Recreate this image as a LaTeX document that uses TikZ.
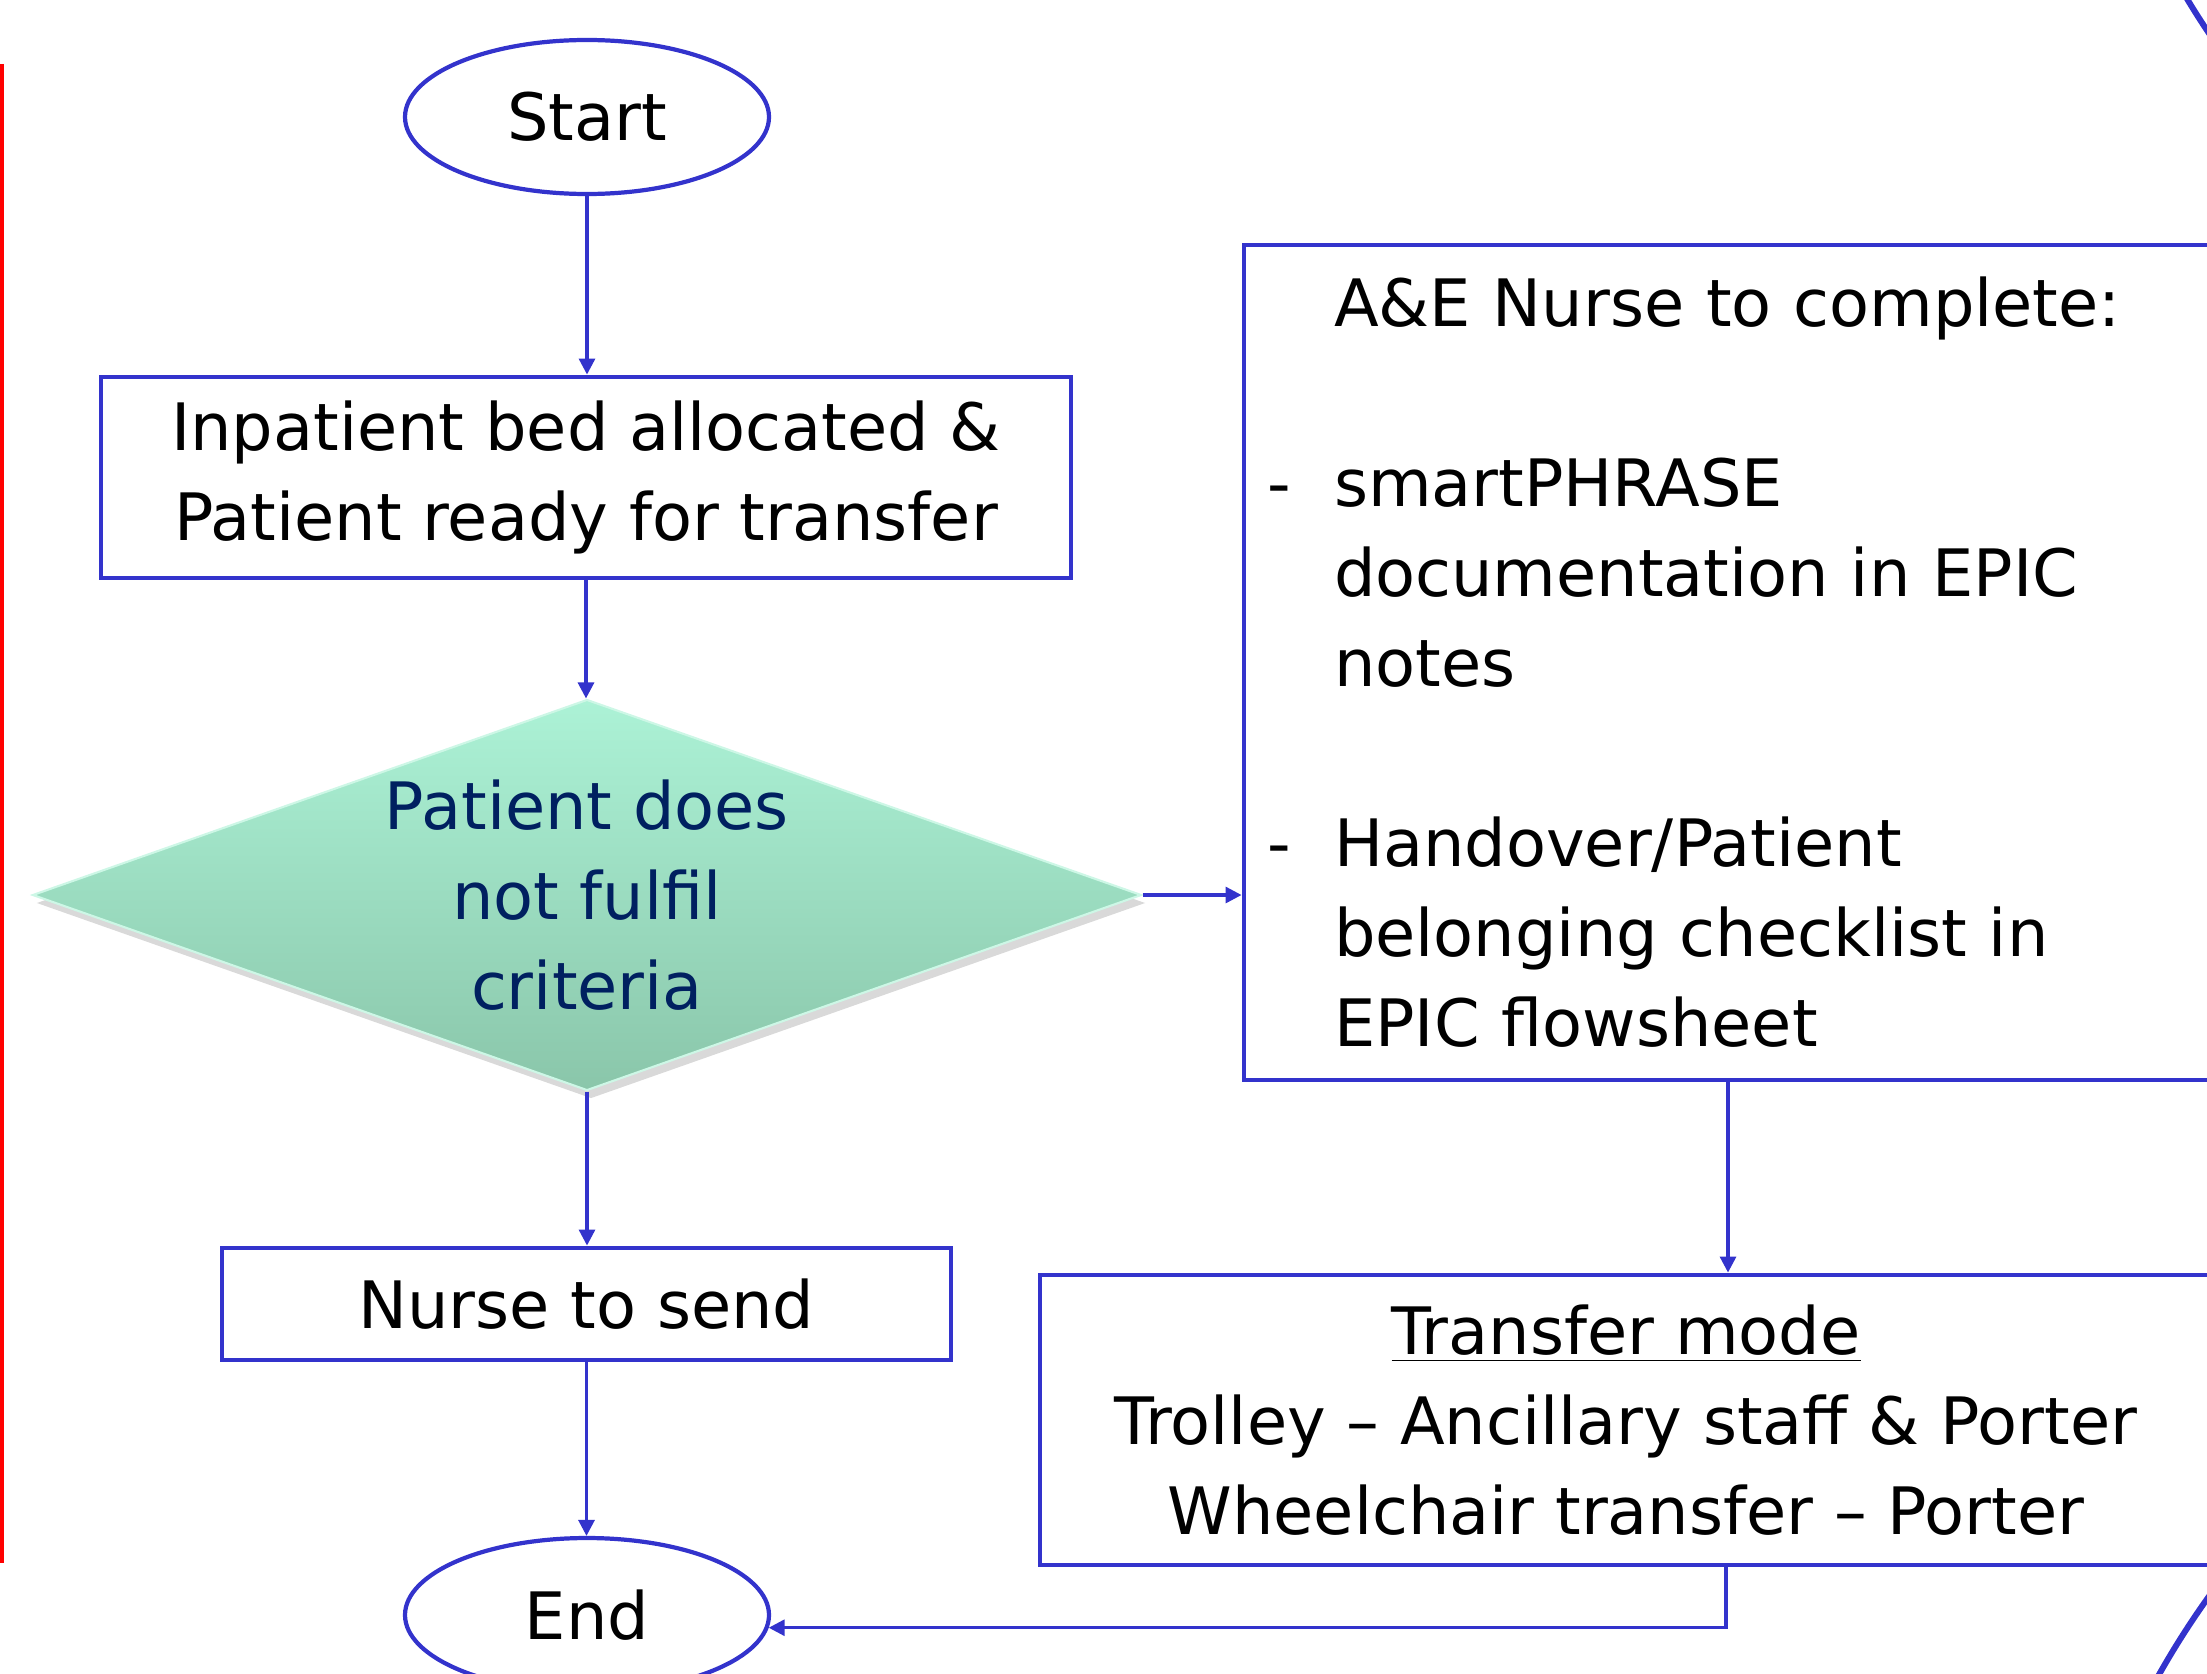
\documentclass[tikz,border=0pt]{standalone}
\usepackage{fontspec}
\setmainfont{DejaVu Sans}
\usetikzlibrary{arrows.meta,shapes.geometric,shadows}
\definecolor{lineblue}{RGB}{51,51,204}
\definecolor{mintA}{RGB}{172,242,214}
\definecolor{mintB}{RGB}{138,198,170}
\definecolor{critblue}{RGB}{0,32,96}
\newcommand{\dl}{\makebox[6.7mm][l]{-}}
\newcommand{\ind}{\hspace*{6.7mm}}
\begin{document}
\begin{tikzpicture}[x=0.1mm,y=-0.1mm,font=\fontsize{18.6}{25.6}\selectfont,
 term/.style={draw=lineblue,line width=1.2pt,ellipse,minimum width=36.4mm,minimum height=15.4mm,inner sep=0pt},
 proc/.style={draw=lineblue,line width=1.4pt,rectangle,align=center,inner sep=0pt},
 dec/.style={diamond,minimum width=110.9mm,minimum height=39.1mm,inner sep=0pt,top color=mintA,bottom color=mintB,draw=mintA!60!white,line width=0.6pt,drop shadow={opacity=0.3,shadow xshift=0.4mm,shadow yshift=-0.8mm}},
 arr/.style={->,lineblue,line width=0.9pt},>={Triangle[length=1.6mm,width=1.6mm]}]
\useasboundingbox (0,0) rectangle (2207,1673);
\clip (0,0) rectangle (2207,1673);
\draw[red,line width=0.4mm] (2,64) -- (2,1563);
\draw[lineblue,line width=1.7pt] (2873,-413) circle[radius=800];
\draw[lineblue,line width=1.7pt] (2910,2098) circle[radius=862];
\node[term] (s) at (587,117) {Start};
\node[proc,minimum width=97mm,minimum height=20.1mm] (bed) at (586,477.5) {Inpatient bed allocated \&\\Patient ready for transfer};
\node[dec] (c) at (587,895) {};
\node[critblue,align=center] (ct) at (c) {Patient does\\not fulfil\\criteria};
\node[proc,minimum width=72.9mm,minimum height=11.2mm] (ns) at (586.5,1304) {Nurse to send};
\node[term] (e) at (587,1615) {End};
\node[proc,minimum width=96.8mm,minimum height=83.5mm,text width=92.2mm,align=left,inner xsep=2.3mm] (ae) at (1728,662.5) {\ind A\&E Nurse to complete:\\[9mm]
\dl smartPHRASE\\ \ind documentation in EPIC\\ \ind notes\\[9mm]
\dl Handover/Patient\\ \ind belonging checklist in\\ \ind EPIC flowsheet};
\node[proc,minimum width=117.2mm,minimum height=29mm] (tm) at (1626,1420) {\underline{Transfer mode}\\Trolley – Ancillary staff \& Porter\\Wheelchair transfer – Porter};
\draw[arr] (s.south) -- (s.south |- bed.north);
\draw[arr] (bed.south) -- (bed.south |- c.north);
\draw[arr] (c.south) -- (c.south |- ns.north);
\draw[arr] (ns.south) -- (ns.south |- e.north);
\draw[arr] (c.east) -- (c.east -| ae.west);
\draw[arr] (ae.south) -- (ae.south |- tm.north);
\draw[arr] ([xshift=10mm]tm.south) |- (e.-4);
\end{tikzpicture}
\end{document}
